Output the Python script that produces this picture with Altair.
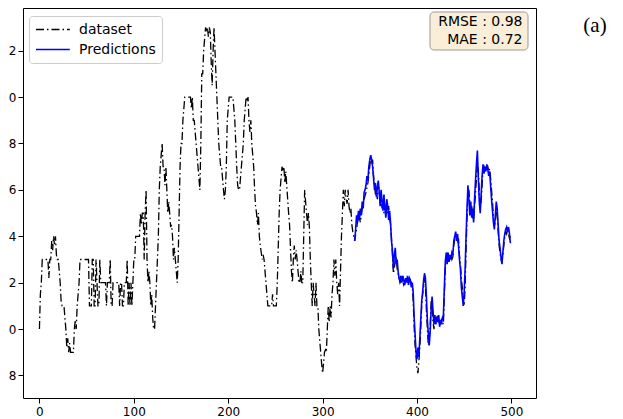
import altair as alt
import pandas as pd

# ---- dataset series (time step, value) ----
data_t = [0,1,2,3,5,7,9,10,11,12,13,14,15,16,17,18,19,20,21,22,23,24,26,27,28,29,30,31,32,33,34,35,36,37,38,39,40,41,42,43,
          52,53,55,56,57,58,59,60,61,62,63,64,65,66,68,70,71,72,74,75,76,77,78,80,82,84,85,86,87,88,89,90,91,92,
          93,94,95,96,97,98,99,100,101,102,104,106,
          107,108,109,110,111,112,113,114,115,116,117,118,119,120,121,122,123,124,125,126,127,128,129,130,131,132,133,134,135,136,137,138,139,140,
          141,142,143,144,145,146,147,148,149,150,151,152,153,154,
          155,157,159,160,161,162,163,164,165,166,167,168,169,170,171,172,173,174,175,176,177,178,179,180,181,182,183,184,185,186,187,188,189,190,
          191,192,193,194,195,196,197,198,199,200,201,203,205,206,207,208,209,210,211,212,213,214,215,216,217,218,219,220,221,222,223,224,225,226,
          227,228,229,230,231,232,233,234,235,236,237,238,239,240,241,242,244,246,247,248,250,251,
          252,253,254,255,256,257,258,259,260,261,262,263,264,265,266,267,268,269,270,271,272,273,274,275,276,277,278,279,280,281,282,283,284,285,
          286,287,288,289,290,291,292,293,294,295,296,297,298,299,300,301,302,303,304,305,306,307,308,309,310,311,312,313,314,315,316,317,318,319,
          320,321,322,323,324,325,326,327,328,329,330,331,332,333,334,
          336,338,340,342,344,346,348,350,351,352,353,354,355,356,357,358,359,360,361,362,363,364,365,366,367,368,369,370,371,372,373,374,375,376,
          377,378,379,380,381,382,384,386,388,390,392,394,395,396,397,398,399,400,401,402,403,404,405,406,407,408,409,410,411,412,413,414,415,416,
          417,418,419,420,422,424,426,428,429,430,431,432,433,434,435,436,437,438,439,440,441,442,443,444,445,446,447,448,449,450,451,452,453,454,
          455,456,457,458,459,460,461,462,463,464,465,466,467,468,469,470,471,472,473,474,475,476,477,478,479,480,481,482,483,484,485,486,487,488,
          489,490,491,492,493,494,495,496,497,498,499]
data_v = [10,11.5,12,13,13,13,13,12.2,13,13,13.8,13.4,14,13.6,14,13.2,13,13,12.5,12,11.2,11,11,10.5,10,9.2,9.6,9,9.4,9,9,9,9,10,10.4,10,11,11.5,12,13,
          13,11,11,13,13,11,11,13,12,11,11,13,12,12,12,12,11,12,12,13,11,11,12,12,12,12,11,12,12,11,11,12,12,12,
          13,11,12,11,12,11,12,13,13,14,14,14,
          15,14.5,15,15,13,15,16,13,12,12.5,12,11,11.5,10.5,10,10,11,12,13,14,16,17,17.5,18,17,17,16.2,17,16,15,15.5,15,14.4,14.5,
          14,13,13.5,13,12.5,12,13,15,17,18,18,19,19.5,20,
          20,20,20,20,19.5,20,19,19,18.5,18,17.5,17,16.5,16,18,21,21,22,22.5,23,22.8,23,22.6,23,22.8,21.5,20.5,22,23,22,21,20,19,18,
          17.5,17,17,16.5,16,15.6,16,17,19,19.5,20,20,20,19.5,19,18,17,16.2,16,16,16.5,17,17.5,18,19,19.5,20,19.8,20,19,18.5,19,18,17.5,
          17,16,15.3,15,14.5,15,14,13.6,13.3,13,13.2,13,12.5,12,11.5,11,11,11,11.5,11,11,11,
          12,13.5,15,16,16.5,17,16.8,17,16.3,16.8,16.2,15.6,15,14.5,13.5,12.5,12,13,13.6,13,13.4,13,12.5,12,12,12.5,12,12,14,16,15.5,15,14.5,15,
          14.4,13,12,11,12,11.5,11,12,11,11,10,9.5,9,8.5,8.1,8.5,9,9.1,9,10,11,10.3,11,10.5,11.5,12,13,12.3,13,12,11.5,12,11,12.5,
          14,15,16,15.3,16,15.6,15.4,16,15.3,15,15.2,14.5,14.2,14,13.8,
          14.3,15,14.6,15.2,15.6,15.9,16.3,17,17.4,17.2,17.3,16.6,16.2,15.8,16,15.6,16.3,16,15.4,15.8,15.2,15.6,15,15.4,14.9,15.5,15,15.3,14.8,14.5,13.9,13.2,12.4,12.6,
          13,13.1,12.6,12.4,12.2,12,12.2,11.9,12.1,12,12.2,12,11.9,11.2,10.1,9.3,8.8,8.3,8.1,8.6,9.2,10,11,11.5,11.8,12.2,11.8,10.8,10,9.3,9.5,10.2,11.2,11,
          10.3,10,10.5,10.4,10.6,10.2,10.4,10.2,11.5,12.6,13,13.3,12.9,13.1,13,13.2,13,13.1,13.6,13.9,14,14,13.8,13.9,13.2,12.8,12.2,11.8,11.2,11,11.8,13.4,14.8,15.8,
          16,15.4,15,15.3,14.8,14.7,15.3,15.8,16.5,17.2,16.8,16,15.2,15.5,16.2,16.9,17,16.8,17,16.9,17,16.8,16.9,16.5,16,15.5,14.8,14.4,14.6,15.2,15,14.2,13.6,13.3,
          13,12.9,13.2,13.6,14,14.2,14.1,14.3,14.1,13.9,14]

# ---- predictions series ----
pred_t = list(range(334, 500))
pred_v = [13.8,14.3,14.9,14.6,15.1,14.7,15.2,14.9,15.5,15.2,15.9,16,16.2,16.6,16.4,17,17.3,17.5,17.3,17,16.5,16,16.3,15.7,16.1,16.4,
          15.9,15.3,16,15.5,15.1,15.8,15.2,14.8,15.6,15.3,14.7,15.1,14.6,13.8,13.4,12.6,13.2,13.5,12.8,13,12.5,12.2,12.1,12.3,12,12.3,
          12.1,11.9,12.2,12,12.3,11.9,12.2,12.1,11.8,12,11.6,10.5,9.8,9,8.7,9.2,8.8,9.6,10.4,11.2,11.6,12.1,12.4,12.2,11.4,10.4,9.8,9.3,
          9.9,10.8,11.4,10.8,10.2,10.6,10.2,10.5,10.3,10.6,10.1,10.4,10.2,10.5,10.6,11.8,12.9,13.3,12.8,13.3,12.9,13.2,13,13.3,13.2,13.8,
          14,14.2,13.8,14.1,13.6,13,12.6,11.8,11.4,11,11.6,12.6,14,15.2,16.2,15.6,14.9,15.5,14.8,15.2,14.6,15.6,16.4,17.1,17.7,16.5,
          15.5,15,15.8,16.6,17.1,16.7,17,16.8,17.1,16.9,16.6,16.8,16.2,15.6,15.1,14.6,14.3,14.9,15.5,15.2,14.5,13.8,13.5,13.1,12.8,13.3,
          13.8,14.1,14.3,14.4,14.2,14.4,14.1,13.7]

series_names = ["dataset", "Predictions"]
x_ticks = [0, 100, 200, 300, 400, 500]
y_ticks = [8, 10, 12, 14, 16, 18, 20, 22]
metric_lines = ["RMSE : 0.98", "MAE : 0.72"]
panel_label = "(a)"

df = pd.concat([
    pd.DataFrame({"t": data_t, "v": data_v, "series": series_names[0], "k": 0}),
    pd.DataFrame({"t": pred_t, "v": pred_v, "series": series_names[1], "k": 1}),
], ignore_index=True)

W, H = 513, 390

legend_def = alt.Legend(title=None, orient="none", legendX=6, legendY=8,
                        symbolType="M-1,0H4.2", symbolSize=169, symbolStrokeWidth=1.4,
                        symbolFillColor="transparent",
                        labelFontSize=14, labelFont="DejaVu Sans", labelColor="black",
                        fillColor="white", strokeColor="#cccccc", cornerRadius=3,
                        padding=6, rowPadding=5, labelOffset=29)

lines = alt.Chart(df).mark_line(clip=True).encode(
    x=alt.X("t:Q", scale=alt.Scale(domain=[-17.4, 526.1], nice=False, zero=False),
            axis=alt.Axis(values=x_ticks, title=None, grid=False, domain=False,
                          tickSize=5, tickColor="black", labelColor="black",
                          labelFontSize=12, labelFont="DejaVu Sans", labelPadding=3, labelFlush=False)),
    y=alt.Y("v:Q", scale=alt.Scale(domain=[7.03, 23.84], nice=False, zero=False),
            axis=alt.Axis(values=y_ticks, title=None, grid=False, domain=False,
                          tickSize=5, tickColor="black", labelColor="black",
                          labelFontSize=12, labelFont="DejaVu Sans", labelPadding=2,
                          labelExpr="toString(datum.value % 10)")),
    color=alt.Color("series:N", scale=alt.Scale(domain=series_names, range=["#000000", "#0000ff"]),
                    legend=legend_def),
    strokeDash=alt.StrokeDash("series:N", scale=alt.Scale(domain=series_names, range=[[8, 3, 1.5, 3], [1, 0]]),
                              legend=legend_def),
    strokeWidth=alt.StrokeWidth("series:N", scale=alt.Scale(domain=series_names, range=[1.3, 1.6]),
                                legend=None),
    order="t:Q",
    detail="k:N",
)

box = alt.Chart(pd.DataFrame({"a": [0]})).mark_rect(
    fill="#faeed9", stroke="#999999", strokeWidth=1, cornerRadius=4
).encode(x=alt.value(407), x2=alt.value(505), y=alt.value(4), y2=alt.value(42))

txt1 = alt.Chart(pd.DataFrame({"a": [0]})).mark_text(
    align="right", baseline="alphabetic", fontSize=14, font="DejaVu Sans", color="black"
).encode(x=alt.value(499.5), y=alt.value(18), text=alt.value(metric_lines[0]))

txt2 = alt.Chart(pd.DataFrame({"a": [0]})).mark_text(
    align="right", baseline="alphabetic", fontSize=14, font="DejaVu Sans", color="black"
).encode(x=alt.value(499.5), y=alt.value(35.5), text=alt.value(metric_lines[1]))

lab = alt.Chart(pd.DataFrame({"a": [0]})).mark_text(
    align="center", baseline="alphabetic", fontSize=21, font="Liberation Serif", color="black"
).encode(x=alt.value(572), y=alt.value(24), text=alt.value(panel_label))

chart = alt.layer(lines, box, txt1, txt2, lab).properties(
    width=W, height=H, padding=0, background="white"
).configure_view(stroke="black", strokeWidth=1)

chart.save("out.html", embed_options={"renderer": "svg", "actions": False})
